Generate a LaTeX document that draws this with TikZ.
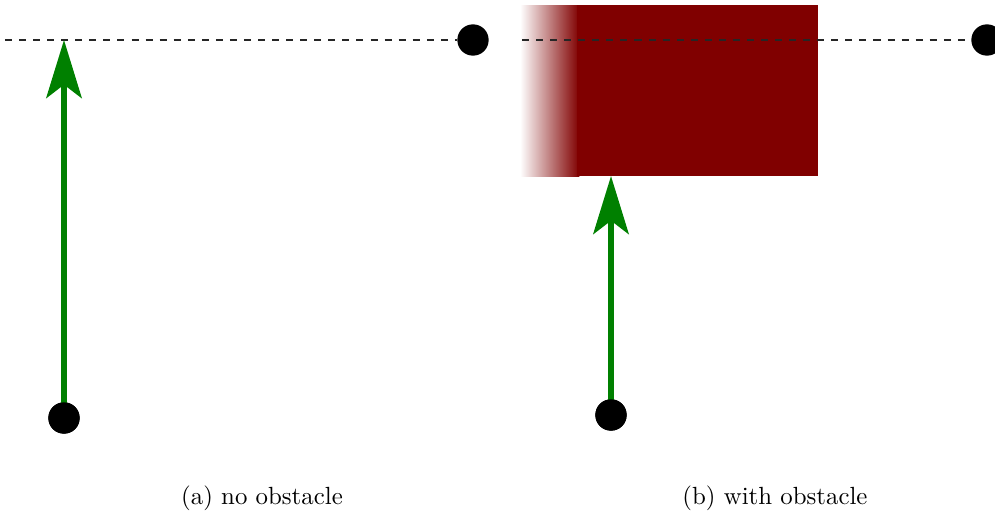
\documentclass[tikz,border=0pt]{standalone}
\usepackage{tikz}
\usetikzlibrary{calc,positioning,arrows.meta}
\usepackage{xcolor}
\definecolor{obstacle}{HTML}{800000}
\definecolor{pathgreen}{HTML}{008000}

\begin{document}
\begin{tikzpicture}[
        dot/.style={circle, fill=black, inner sep=0pt, minimum size=0.47cm},
        motion/.style={pathgreen, line width=0.09cm, -{Stealth[length=0.87cm, width=0.53cm, inset=0.2cm]}},
        horizon/.style={black!85, dashed, semithick},
        caption/.style={font=\fontsize{10.6}{12.7}\selectfont}
    ]
        \useasboundingbox (0, 0) rectangle (14.925, 7.755);

        % (a) no obstacle
        \coordinate (horizonA) at (0.075, 7.155);
        \coordinate (tipA) at (0.96, 7.155);
        \node[dot] (goalA) at (7.095, 7.155) {};
        \node[dot] (startA) at (0.96, 1.485) {};
        \draw[horizon] (horizonA) -- (goalA);
        \draw[motion] (startA.center) -- (tipA);
        \node[dot] at (startA) {};

        % (b) with obstacle
        \shade[left color=white, right color=obstacle] (7.8, 5.115) rectangle (8.69, 7.68);
        \fill[obstacle] (8.66, 5.115) rectangle (12.27, 7.68);
        \coordinate (horizonB) at (7.83, 7.155);
        \coordinate (tipB) at (9.165, 5.115);
        \node[dot] (goalB) at (14.805, 7.155) {};
        \node[dot] (startB) at (9.165, 1.53) {};
        \draw[horizon] (horizonB) -- (goalB);
        \draw[motion] (startB.center) -- (tipB);
        \node[dot] at (startB) {};

        % Captions
        \node[caption] (capA) at (3.93, 0.285) {(a) no obstacle};
        \node[caption] (capB) at (11.625, 0.285) {(b) with obstacle};
    \end{tikzpicture}
\end{document}
